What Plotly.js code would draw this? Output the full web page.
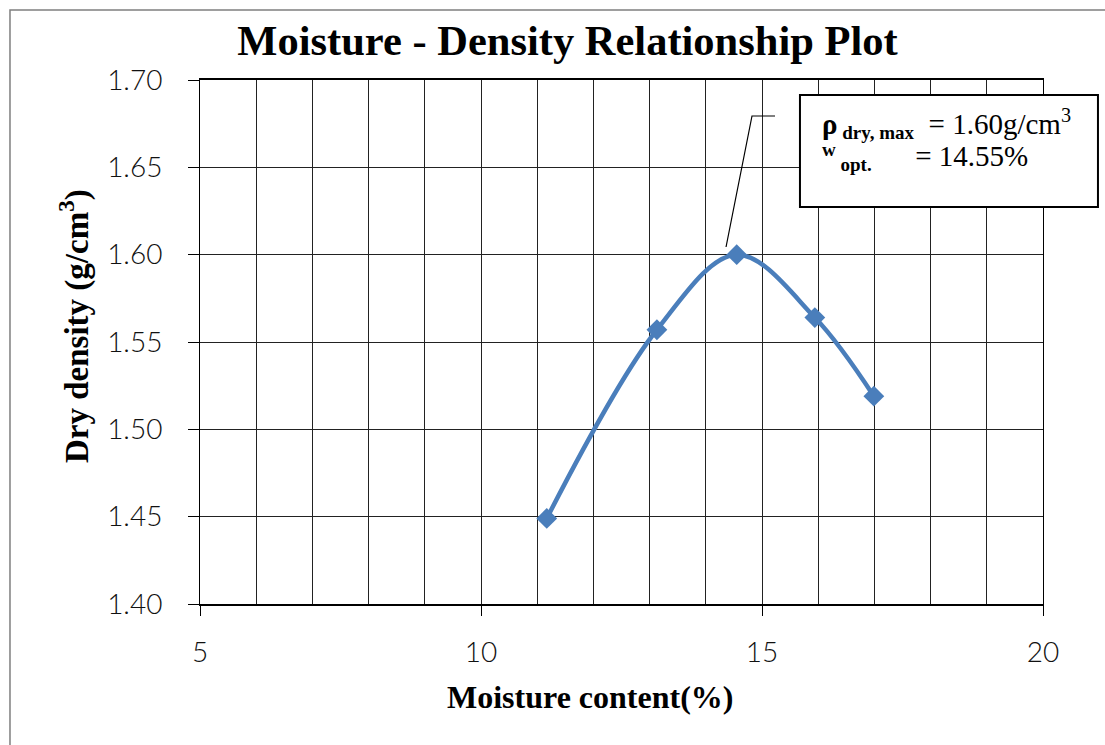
<!DOCTYPE html>
<html>
<head>
<meta charset="utf-8">
<script src="https://cdn.plot.ly/plotly-3.0.1.min.js"></script>
<style>
  html, body { margin: 0; padding: 0; background: #fff; }
  #chart { width: 1105px; height: 745px; }
</style>
</head>
<body>
<div id="chart"></div>
<script>
// Compaction test readings
const moistureContent = [11.17, 13.13, 14.55, 15.94, 16.99];
const dryDensity = [1.449, 1.557, 1.600, 1.564, 1.519];

const yTicks = [1.40, 1.45, 1.50, 1.55, 1.60, 1.65, 1.70];
const xTicks = [5, 10, 15, 20];

const blue = '#4A7EBB';
const serif = 'Liberation Serif, Times New Roman, serif';
const thin = 'Lato, Open Sans, sans-serif';

const trace = {
  x: moistureContent,
  y: dryDensity,
  type: 'scatter',
  mode: 'lines+markers',
  line: { color: blue, width: 4.5, shape: 'spline', smoothing: 1 },
  marker: { symbol: 'diamond', size: 16, color: blue },
  hoverinfo: 'x+y'
};

const nb = n => '\u00a0'.repeat(n);
const big = s => '<span style="font-size:29px">' + s + '</span>';
const small = s => '<span style="font-size:19px"><b>' + s + '</b></span>';

// two-line label for the maximum dry density / optimum water content
const peakLabel =
  big('<b>ρ</b>') + '<sub>' + small(' dry, max') + '</sub>' + big(nb(2) + '= 1.60g/cm<sup>3</sup>') +
  '<br>' +
  '<sup>' + small('w') + '</sup>' + '<sub>' + small(' opt.') + '</sub>' + big(nb(6) + '= 14.55%');

const layout = {
  width: 1105,
  height: 745,
  margin: { l: 200, r: 62, t: 80, b: 141 },
  paper_bgcolor: '#ffffff',
  plot_bgcolor: '#ffffff',
  showlegend: false,
  title: {
    text: '<b>Moisture - Density Relationship Plot</b>',
    font: { family: serif, size: 42.5, color: '#000' },
    x: 0.5136, xref: 'container', xanchor: 'center',
    y: 0.946, yref: 'container', yanchor: 'middle'
  },
  xaxis: {
    range: [5, 20],
    tickvals: xTicks,
    ticktext: xTicks.map(String),
    ticks: 'outside', ticklen: 10, tickcolor: '#000', tickwidth: 1,
    tickfont: { family: thin, size: 28, color: '#111', weight: 300 },
    ticklabelstandoff: 12,
    showgrid: true, gridcolor: '#222', gridwidth: 1,
    minor: { dtick: 1, showgrid: true, gridcolor: '#222', gridwidth: 1, ticks: '' },
    showline: true, linecolor: '#000', linewidth: 2, mirror: true,
    zeroline: false
  },
  yaxis: {
    range: [1.40, 1.70],
    tickvals: yTicks,
    ticktext: yTicks.map(v => v.toFixed(2)),
    ticks: 'outside', ticklen: 11, tickcolor: '#000', tickwidth: 1,
    tickfont: { family: thin, size: 28, color: '#111', weight: 300 },
    ticklabelstandoff: 20,
    showgrid: true, gridcolor: '#222', gridwidth: 1,
    showline: true, linecolor: '#000', linewidth: 1, mirror: true,
    zeroline: false
  },
  shapes: [
    // outer chart frame (only left and top edges show inside the picture)
    {
      type: 'path', xref: 'paper', yref: 'paper',
      path: 'M -0.2254,-0.30 L -0.2254,1.1336 L 1.10,1.1336',
      line: { color: '#7f7f7f', width: 1.5 }
    },
    // leader line from peak to the label box
    {
      type: 'path', xref: 'paper', yref: 'paper',
      path: 'M 0.624,0.6813 L 0.6548,0.9313 L 0.6821,0.9313',
      line: { color: '#000', width: 1.2 }
    },
    // label box
    {
      type: 'rect', xref: 'paper', yref: 'paper',
      x0: 0.7117, x1: 1.0652, y0: 0.7576, y1: 0.9714,
      fillcolor: '#ffffff', line: { color: '#000', width: 2 }
    }
  ],
  annotations: [
    // axis titles (placed by hand, the x title sits left of the plot centre)
    {
      xref: 'paper', yref: 'paper', x: 0.4626, y: -0.1775,
      xanchor: 'center', yanchor: 'middle', showarrow: false,
      text: '<b>Moisture content(%)</b>',
      font: { family: serif, size: 32, color: '#000' }
    },
    {
      xref: 'paper', yref: 'paper', x: -0.1495, y: 0.5305,
      xanchor: 'center', yanchor: 'middle', showarrow: false, textangle: -90,
      text: '<b>Dry density (g/cm<sup>3</sup>)</b>',
      font: { family: serif, size: 33, color: '#000' }
    },
    // label box text
    {
      xref: 'paper', yref: 'paper', x: 0.7355, y: 0.8874,
      xanchor: 'left', yanchor: 'middle', align: 'left', showarrow: false,
      text: peakLabel,
      font: { family: serif, size: 24.5, color: '#000' }
    }
  ]
};

Plotly.newPlot('chart', [trace], layout, { displayModeBar: false, staticPlot: true });
</script>
</body>
</html>
